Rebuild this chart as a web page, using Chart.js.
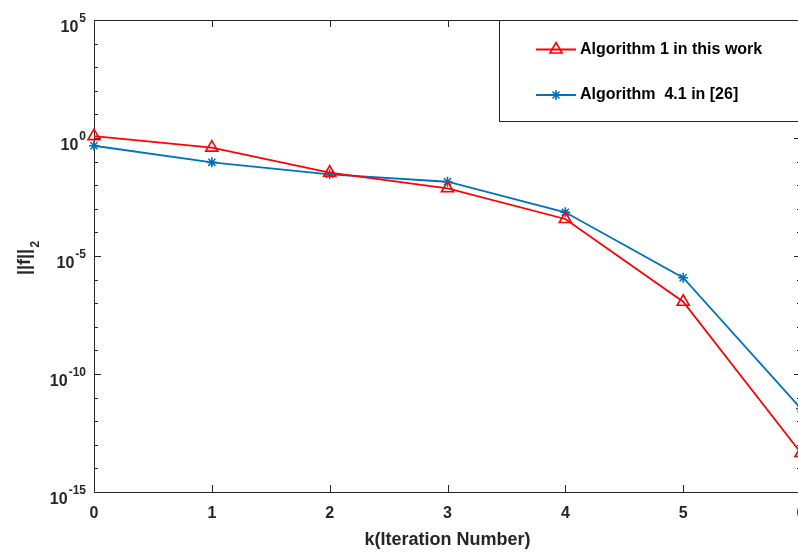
<!DOCTYPE html>
<html>
<head>
<meta charset="utf-8">
<script src="https://cdn.jsdelivr.net/npm/chart.js"></script>
<style>
  html, body { margin: 0; padding: 0; background: #fff; overflow: hidden; }
  #cv { display: block; }
</style>
</head>
<body>
<canvas id="cv" width="806" height="552" style="width:806px;height:552px"></canvas>
<script>
// data
const iterations = [0, 1, 2, 3, 4, 5, 6];
const alg1 = [1.2, 0.39, 0.034, 0.0074, 3.7e-4, 1.15e-7, 4.5e-14];
const alg41 = [0.47, 0.093, 0.029, 0.014, 7.1e-4, 1.2e-6, 3.4e-12];
const seriesNames = ['Algorithm 1 in this work', 'Algorithm  4.1 in [26]'];
const yMajorExp = [-15, -10, -5, 0, 5];
const xTicks = [0, 1, 2, 3, 4, 5, 6];

const AX = '#262626';
const RED = '#ff0000';
const BLUE = '#0072bd';
const FONT = '"Liberation Sans", Arial, sans-serif';

function tri(ctx, x, y, r) {
  ctx.beginPath();
  for (let i = 0; i < 3; i++) {
    const a = i * 2 * Math.PI / 3;
    const px = x + Math.sin(a) * r, py = y - Math.cos(a) * r;
    if (i === 0) ctx.moveTo(px, py); else ctx.lineTo(px, py);
  }
  ctx.closePath();
  ctx.stroke();
}
function aster(ctx, x, y, r) {
  ctx.beginPath();
  for (let i = 0; i < 4; i++) {
    const a = i * Math.PI / 4;
    ctx.moveTo(x - Math.cos(a) * r, y - Math.sin(a) * r);
    ctx.lineTo(x + Math.cos(a) * r, y + Math.sin(a) * r);
  }
  ctx.stroke();
}

const axesPlugin = {
  id: 'matlabAxes',
  beforeDatasetsDraw(chart) {
    const { ctx, chartArea: a, scales: { x, y } } = chart;
    ctx.save();
    ctx.strokeStyle = AX;
    ctx.lineWidth = 1;
    // y ticks, every decade, inward on both sides
    for (let e = -15; e <= 5; e++) {
      const py = Math.round(y.getPixelForValue(Math.pow(10, e))) + 0.5;
      const len = (e % 5 === 0) ? 7 : 4;
      ctx.beginPath();
      ctx.moveTo(a.left, py); ctx.lineTo(a.left + len, py);
      ctx.moveTo(a.right, py); ctx.lineTo(a.right - len, py);
      ctx.stroke();
    }
    xTicks.forEach(v => {
      const px = Math.round(x.getPixelForValue(v)) + 0.5;
      ctx.beginPath();
      ctx.moveTo(px, a.bottom); ctx.lineTo(px, a.bottom - 7);
      ctx.moveTo(px, a.top); ctx.lineTo(px, a.top + 7);
      ctx.stroke();
    });
    ctx.strokeRect(Math.round(a.left) + 0.5, Math.round(a.top) + 0.5,
      Math.round(a.right - a.left), Math.round(a.bottom - a.top));

    // tick labels
    ctx.fillStyle = AX;
    ctx.textBaseline = 'alphabetic';
    yMajorExp.forEach(e => {
      const py = y.getPixelForValue(Math.pow(10, e));
      const sup = String(e);
      ctx.font = 'bold 12px ' + FONT;
      const wSup = ctx.measureText(sup).width;
      ctx.textAlign = 'right';
      ctx.fillText(sup, 86, py + 2);
      ctx.font = 'bold 16px ' + FONT;
      ctx.fillText('10', 86 - wSup - 1, py + 11.5);
    });
    ctx.font = 'bold 16px ' + FONT;
    ctx.textAlign = 'center';
    xTicks.forEach(v => {
      ctx.fillText(String(v), x.getPixelForValue(v), 518);
    });

    // axis titles
    ctx.font = 'bold 18px ' + FONT;
    ctx.fillText('k(Iteration Number)', (a.left + a.right) / 2, 545);
    ctx.save();
    ctx.translate(30, 275);
    ctx.rotate(-Math.PI / 2);
    ctx.textAlign = 'left';
    ctx.font = 'bold 18px ' + FONT;
    ctx.fillText('||f||', 0, 0);
    const w = ctx.measureText('||f||').width;
    ctx.font = 'bold 12.5px ' + FONT;
    ctx.fillText('2', w + 1, 8.5);
    ctx.restore();
    ctx.restore();
  },
  afterDraw(chart) {
    const { ctx } = chart;
    ctx.save();
    // legend box
    ctx.fillStyle = '#fff';
    ctx.fillRect(499.5, 20.5, 320, 101);
    ctx.strokeStyle = AX;
    ctx.lineWidth = 1;
    ctx.strokeRect(499.5, 20.5, 320, 101);
    const rows = [{ y: 49.5, c: RED, m: 'tri' }, { y: 95, c: BLUE, m: 'ast' }];
    rows.forEach((r, i) => {
      ctx.strokeStyle = r.c;
      ctx.lineWidth = 1.8;
      ctx.beginPath();
      ctx.moveTo(536, r.y); ctx.lineTo(576, r.y);
      ctx.stroke();
      ctx.lineWidth = 1.6;
      if (r.m === 'tri') tri(ctx, 556, r.y, 7); else aster(ctx, 556, r.y, 5);
      ctx.fillStyle = '#000';
      ctx.font = 'bold 16px ' + FONT;
      ctx.textAlign = 'left';
      ctx.textBaseline = 'middle';
      ctx.fillText(seriesNames[i], 580, r.y);
    });
    ctx.restore();
  }
};

new Chart(document.getElementById('cv'), {
  type: 'line',
  data: {
    datasets: [
      {
        label: seriesNames[0],
        data: iterations.map((k, i) => ({ x: k, y: alg1[i] })),
        borderColor: RED,
        borderWidth: 1.8,
        pointStyle: 'triangle',
        pointRadius: 7,
        pointBorderWidth: 1.6,
        pointBorderColor: RED,
        pointBackgroundColor: 'rgba(0,0,0,0)',
        tension: 0,
        clip: false
      },
      {
        label: seriesNames[1],
        data: iterations.map((k, i) => ({ x: k, y: alg41[i] })),
        borderColor: BLUE,
        borderWidth: 1.8,
        pointStyle: 'star',
        pointRadius: 5,
        pointBorderWidth: 1.6,
        pointBorderColor: BLUE,
        pointBackgroundColor: BLUE,
        tension: 0,
        clip: false
      }
    ]
  },
  options: {
    responsive: false,
    animation: false,
    devicePixelRatio: 1,
    layout: { autoPadding: false, padding: { top: 20, right: 5, left: 0, bottom: 0 } },
    plugins: { legend: { display: false }, tooltip: { enabled: false } },
    scales: {
      x: {
        type: 'linear', min: 0, max: 6,
        grid: { display: false }, border: { display: false },
        ticks: { display: false },
        afterFit: s => { s.height = 60; }
      },
      y: {
        type: 'logarithmic', min: 1e-15, max: 1e5,
        grid: { display: false }, border: { display: false },
        ticks: { display: false },
        afterFit: s => { s.width = 94; }
      }
    }
  },
  plugins: [axesPlugin]
});
</script>
</body>
</html>
